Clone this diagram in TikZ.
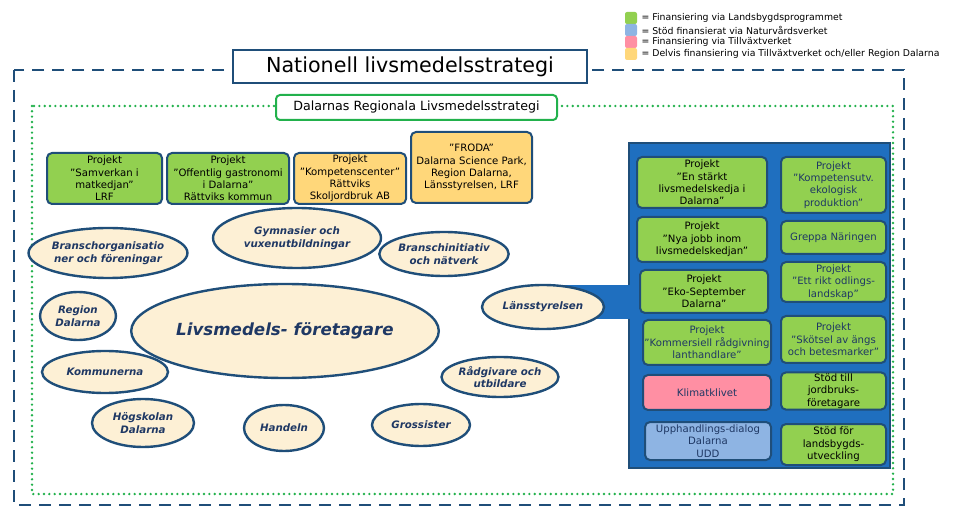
\documentclass[tikz,border=0pt]{standalone}
\usepackage{fontspec}
\setmainfont{DejaVu Sans}
\usetikzlibrary{shapes.geometric}
\newlength\px \setlength\px{0.75pt}
\definecolor{navy}{HTML}{1F4E79}
\definecolor{txtblue}{HTML}{1F3864}
\definecolor{lgreen}{HTML}{92D050}
\definecolor{lorange}{HTML}{FFD77A}
\definecolor{lpink}{HTML}{FF8FA3}
\definecolor{lblue}{HTML}{8EB4E3}
\definecolor{panelblue}{HTML}{1F6FBF}
\definecolor{cream}{HTML}{FDF0D5}
\definecolor{dgreen}{HTML}{22B14C}
\begin{document}
\begin{tikzpicture}[x=0.75pt,y=-0.75pt]
  \tikzset{proj/.style = {rectangle, rounded corners=5\px, draw=navy, line width=1.5pt, align=center,
      inner sep=1pt, font=\fontsize{7.6}{9.3}\selectfont}, }
  \tikzset{actor/.style = {ellipse, draw=navy, fill=cream, line width=1.8pt, align=center, inner sep=0pt,
      text=txtblue, font=\fontsize{7.7}{9.6}\selectfont\bfseries\itshape}, }
  \tikzset{legend/.style = {rectangle, rounded corners=2\px, minimum width=12\px, minimum height=12\px, inner sep=0pt}, }
  \useasboundingbox (0,0) rectangle (960,516);

  % legend
  \node[legend, fill=lgreen] (lg1) at (631,18) {};
  \node[legend, fill=lblue] (lg2) at (631,30) {};
  \node[legend, fill=lpink] (lg3) at (631,42) {};
  \node[legend, fill=lorange] (lg4) at (631,54) {};
  \foreach \n/\t in {lg1/{Finansiering via Landsbygdsprogrammet}, lg2/{Stöd finansierat via Naturvårdsverket},
      lg3/{Finansiering via Tillväxtverket}, lg4/{Delvis finansiering via Tillväxtverket och/eller Region Dalarna}}
    \node[anchor=west, inner sep=0pt, font=\fontsize{7}{8}\selectfont] at ([xshift=4\px]\n.east) {= \t};

  % frames
  \draw[navy, line width=2.2pt, dash pattern=on 9pt off 6pt] (14,70) rectangle (904,505);
  \draw[dgreen, line width=2pt, line cap=round, dash pattern=on 0pt off 4pt] (32,106) rectangle (893,494);
  \node[draw=navy, fill=white, line width=1.5pt, minimum width=354\px, minimum height=33\px,
    font=\fontsize{15.5}{18}\selectfont] (nat) at (410,66.5) {Nationell livsmedelsstrategi};
  \node[draw=dgreen, fill=white, rounded corners=4\px, line width=1.5pt, minimum width=281\px, minimum height=25\px,
    font=\fontsize{9.5}{11}\selectfont] (reg) at (416.5,107.5) {Dalarnas Regionala Livsmedelsstrategi};

  % top projects
  \node[proj, fill=lgreen, minimum width=115\px, minimum height=51\px] (samv) at (104.5,178.5)
    {Projekt\\”Samverkan i\\matkedjan”\\LRF};
  \node[proj, fill=lgreen, minimum width=122\px, minimum height=51\px] (gastro) at (228,178.5)
    {Projekt\\”Offentlig gastronomi\\i Dalarna”\\Rättviks kommun};
  \node[proj, fill=lorange, minimum width=112\px, minimum height=51\px] (kompc) at (350,178.5)
    {Projekt\\”Kompetenscenter”\\Rättviks\\Skoljordbruk AB};
  \node[proj, fill=lorange, minimum width=121\px, minimum height=71\px] (froda) at (471.5,167.5)
    {”FRODA”\\Dalarna Science Park,\\Region Dalarna,\\Länsstyrelsen, LRF};

  % right panel
  \node[draw=navy, fill=panelblue, line width=1.2pt, minimum width=261\px, minimum height=325\px] (panel) at (759.5,305.5) {};
  \fill[panelblue] (560,285) rectangle (631,319);
  \node[proj, fill=lgreen, minimum width=130\px, minimum height=51\px] (starkt) at (702,182.5)
    {Projekt\\”En stärkt\\livsmedelskedja i\\Dalarna”};
  \node[proj, fill=lgreen, minimum width=130\px, minimum height=45\px] (nyajobb) at (702,239.5)
    {Projekt\\”Nya jobb inom\\livsmedelskedjan”};
  \node[proj, fill=lgreen, minimum width=128\px, minimum height=43\px] (eko) at (704,291.5)
    {Projekt\\”Eko-September\\Dalarna”};
  \node[proj, fill=lgreen, text=txtblue, minimum width=128\px, minimum height=45\px] (kommers) at (707,342.5)
    {Projekt\\”Kommersiell rådgivning\\lanthandlare”};
  \node[proj, fill=lpink, text=txtblue, minimum width=128\px, minimum height=35\px] (klimat) at (707,392.5) {Klimatklivet};
  \node[proj, fill=lblue, text=txtblue, minimum width=126\px, minimum height=38\px] (udd) at (708,441)
    {Upphandlings-dialog\\Dalarna\\UDD};
  \node[proj, fill=lgreen, text=txtblue, minimum width=105\px, minimum height=56\px] (kompu) at (833.5,185)
    {Projekt\\”Kompetensutv.\\ekologisk\\produktion”};
  \node[proj, fill=lgreen, text=txtblue, minimum width=105\px, minimum height=33\px] (greppa) at (833.5,237.5) {Greppa Näringen};
  \node[proj, fill=lgreen, text=txtblue, minimum width=105\px, minimum height=40\px] (odling) at (833.5,282)
    {Projekt\\”Ett rikt odlings-\\landskap”};
  \node[proj, fill=lgreen, text=txtblue, minimum width=105\px, minimum height=47\px] (skotsel) at (833.5,339.5)
    {Projekt\\”Skötsel av ängs\\och betesmarker”};
  \node[proj, fill=lgreen, minimum width=105\px, minimum height=36\px] (jordbruk) at (833.5,391)
    {Stöd till\\jordbruks-\\företagare};
  \node[proj, fill=lgreen, minimum width=105\px, minimum height=41\px] (landsb) at (833.5,444.5)
    {Stöd för\\landsbygds-\\utveckling};

  % actors
  \node[actor, minimum width=144\px, minimum height=50\px] (bransch) at (108,253) {Branschorganisatio\\ner och föreningar};
  \node[actor, minimum width=168\px, minimum height=60\px] (gymn) at (297,238) {Gymnasier och\\vuxenutbildningar};
  \node[actor, minimum width=116\px, minimum height=44\px] (initiativ) at (444,254) {Branschinitiativ\\och nätverk};
  \node[actor, minimum width=76\px, minimum height=48\px] (region) at (78,316) {Region\\Dalarna};
  \node[actor, minimum width=260\px, minimum height=94\px, font=\fontsize{12.5}{15}\selectfont\bfseries\itshape] (livs) at (285,331) {Livsmedels- företagare};
  \node[actor, minimum width=122\px, minimum height=44\px] (lans) at (543,307) {Länsstyrelsen};
  \node[actor, minimum width=126\px, minimum height=42\px] (kommun) at (105,372) {Kommunerna};
  \node[actor, minimum width=102\px, minimum height=40\px] (radgiv) at (500,377) {Rådgivare och\\utbildare};
  \node[actor, minimum width=102\px, minimum height=48\px] (hogsk) at (143,423) {Högskolan\\Dalarna};
  \node[actor, minimum width=80\px, minimum height=46\px] (handel) at (284,428) {Handeln};
  \node[actor, minimum width=98\px, minimum height=42\px] (gross) at (421,425) {Grossister};
\end{tikzpicture}
\end{document}
